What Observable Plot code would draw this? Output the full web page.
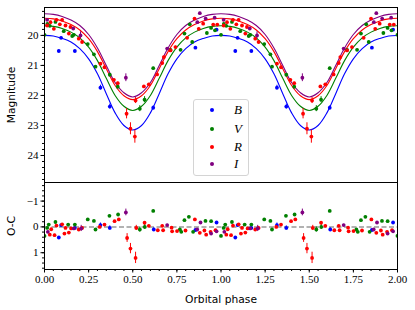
<!DOCTYPE html>
<html><head><meta charset="utf-8">
<script src="https://cdn.jsdelivr.net/npm/d3@7"></script>
<script src="https://cdn.jsdelivr.net/npm/@observablehq/plot@0.6"></script>
<style>
body{margin:0;background:#fff;}
#wrap{position:relative;width:415px;height:310px;overflow:hidden;}
#wrap svg{position:absolute;left:0;}
.legend{position:absolute;left:193px;top:99px;width:56px;height:77px;border:1px solid #d4d4d4;border-radius:3px;background:rgba(255,255,255,0.8);box-sizing:border-box;}
.legend .row{position:absolute;left:0;width:100%;height:16px;}
.legend .dot{position:absolute;left:16px;top:6px;width:4px;height:4px;border-radius:50%;}
.legend .lab{position:absolute;left:40px;top:0;font:italic 13px "Liberation Serif";line-height:16px;color:#000;}
</style></head>
<body>
<div id="wrap"></div>
<script>
// ---- data (one orbital cycle; the figure repeats it at phase + 1) ----
const bandNames = ["B", "V", "R", "I"];
const bandColors = ["#0000ff", "#008000", "#ff0000", "#800080"];

// model light curves
const modelPhase = [0,0.05,0.1,0.15,0.2,0.25,0.3,0.35,0.4,0.45,0.5,0.55,0.6,0.65,0.7,0.75,0.8,0.85,0.9,0.95,1.0];
const modelB = [20.00,20.02,20.10,20.22,20.44,20.78,21.28,21.94,22.58,23.00,23.15,23.00,22.58,21.94,21.28,20.78,20.44,20.22,20.10,20.02,20.00];
const modelV = [19.68,19.70,19.77,19.89,20.08,20.39,20.84,21.43,22.00,22.36,22.50,22.36,22.00,21.43,20.84,20.39,20.08,19.89,19.77,19.70,19.68];
const modelR = [19.43,19.45,19.52,19.64,19.82,20.11,20.54,21.11,21.67,22.01,22.14,22.01,21.67,21.11,20.54,20.11,19.82,19.64,19.52,19.45,19.43];
const modelI = [19.28,19.30,19.37,19.49,19.67,19.97,20.42,21.00,21.57,21.91,22.05,21.91,21.57,21.00,20.42,19.97,19.67,19.49,19.37,19.30,19.28];

// observed magnitudes [phase, mag, error]
const obsB = [[0.081,20.52],[0.094,20.08],[0.172,20.52],[0.317,21.74,0.08],[0.370,22.37,0.08],[0.616,22.41,0.06],[0.855,20.41],[0.975,19.81]];
const obsV = [[0.000,19.98],[0.016,19.62],[0.030,19.68],[0.062,19.55],[0.109,19.86],[0.157,20.02],[0.166,19.98],[0.245,20.29],[0.280,20.63],[0.289,21.04],[0.370,21.31],[0.415,21.71],[0.540,22.44,0.1],[0.567,22.14,0.1],[0.616,21.09],[0.714,20.48],[0.771,20.48],[0.793,19.94],[0.823,19.63],[0.837,20.22],[0.920,19.92],[0.944,19.75],[0.966,19.83]];
const obsR = [[0.015,19.67],[0.034,19.56],[0.053,19.78],[0.068,19.48],[0.087,19.63],[0.100,19.48],[0.119,19.67],[0.138,19.94],[0.147,19.72],[0.194,20.11],[0.213,20.22],[0.317,20.94],[0.340,21.06],[0.393,21.48],[0.415,21.59],[0.465,22.61,0.17],[0.487,23.11,0.2],[0.512,23.37,0.22],[0.516,22.17,0.1],[0.563,21.70],[0.591,21.63],[0.638,21.30],[0.667,20.92],[0.676,20.72],[0.714,20.50],[0.742,20.39],[0.808,20.08],[0.850,19.44],[0.874,19.78],[0.899,19.61],[0.956,19.64],[0.979,19.64]];
const obsI = [[0.015,19.48],[0.163,19.77],[0.204,20.00,0.12],[0.461,21.41,0.13],[0.695,20.44],[0.866,19.56],[0.880,19.26],[0.913,19.44],[0.964,19.41]];

// residuals O-C [phase, residual, error]
const resB = [[0.081,0.41],[0.094,-0.07],[0.172,0.04],[0.317,-0.07,0.08],[0.370,0.04,0.08],[0.619,0.10,0.06],[0.855,0.12],[0.975,-0.17]];
const resV = [[0.000,0.35],[0.015,0.04],[0.024,-0.09],[0.062,-0.19],[0.134,-0.09],[0.172,-0.09],[0.245,-0.29],[0.280,-0.23],[0.289,0.10],[0.368,-0.43],[0.417,-0.48],[0.540,0.10,0.1],[0.568,0.00,0.1],[0.616,-0.62],[0.767,0.10],[0.775,0.19],[0.793,-0.26],[0.818,-0.39],[0.842,0.19],[0.912,-0.23],[0.944,-0.22]];
const resR = [[0.030,0.30],[0.038,0.09],[0.057,0.32],[0.068,-0.05],[0.100,-0.10],[0.113,0.26],[0.119,0.04],[0.138,0.22],[0.151,0.06],[0.194,0.10],[0.213,0.04],[0.313,0.00],[0.340,-0.09],[0.397,-0.22],[0.421,-0.29],[0.468,0.43,0.17],[0.487,0.84,0.2],[0.516,1.20,0.22],[0.520,0.04,0.1],[0.567,-0.16],[0.591,-0.04],[0.642,0.13],[0.667,-0.04],[0.672,0.13],[0.720,0.03],[0.723,0.17],[0.751,0.16],[0.799,0.14],[0.852,-0.29],[0.880,0.23],[0.906,0.14],[0.916,0.30],[0.941,0.19],[0.969,0.13]];
const resI = [[0.019,0.19],[0.166,0.06],[0.208,0.06,0.12],[0.461,-0.56,0.13],[0.695,-0.07],[0.865,0.10],[0.884,-0.17],[0.944,0.26],[0.975,0.17]];

// ticks
const phaseTicks = [0,0.25,0.5,0.75,1,1.25,1.5,1.75,2];
const phaseMinor = d3.range(0, 2.0001, 0.05);
const magTicks = [20,21,22,23,24];
const magMinor = d3.range(19.2, 24.85, 0.2);
const ocTicks = [-1,0,1];
const ocMinor = d3.range(-1.6, 1.61, 0.2);

// ---- build tables ----
const models = [modelB, modelV, modelR, modelI];
const obsAll = [obsB, obsV, obsR, obsI];
const resAll = [resB, resV, resR, resI];
const cycles = [0, 1, 2];

function expand(list, band) {
  const out = [];
  for (const k of cycles) for (const [p, v, e] of list) {
    const ph = p + k;
    if (ph <= 2.0001) out.push({band, phase: ph, v, e: e ?? 0.03});
  }
  return out;
}
const modelRows = [];
models.forEach((m, bi) => {
  for (const k of [0, 1]) modelPhase.forEach((p, i) => {
    if (k === 1 && i === 0) return;
    modelRows.push({band: bandNames[bi], phase: p + k, v: m[i]});
  });
});
const obsRows = obsAll.flatMap((l, i) => expand(l, bandNames[i]));
const resRows = resAll.flatMap((l, i) => expand(l, bandNames[i]));

const colorScale = {domain: bandNames, range: bandColors};
const SERIF = "Liberation Serif";
const plotStyle = {fontFamily: SERIF, fontSize: "11px", color: "#000", background: "transparent", overflow: "visible"};
const W = 415;

const topChart = Plot.plot({
  width: W, height: 182,
  marginTop: 7, marginBottom: 0, marginLeft: 44, marginRight: 18,
  style: plotStyle,
  x: {domain: [0, 2], axis: null},
  y: {domain: [19.07, 24.9], reverse: true},
  color: colorScale,
  marks: [
    Plot.line(modelRows, {x: "phase", y: "v", z: "band", stroke: "band", strokeWidth: 1.1, curve: "catmull-rom", clip: true}),
    Plot.ruleX(obsRows, {x: "phase", y1: d => d.v - d.e, y2: d => d.v + d.e, stroke: "band", strokeWidth: 1, clip: true}),
    Plot.dot(obsRows, {x: "phase", y: "v", fill: "band", r: 1.9, clip: true}),
    Plot.axisY(magMinor, {tickSize: 2, text: null, label: null}),
    Plot.axisY(magTicks, {tickSize: 3.5, tickPadding: 2.5, tickFormat: d => String(d), fontFamily: SERIF, fontSize: 11, label: "Magnitude", labelAnchor: "center", labelArrow: "none", labelOffset: 37}),
    Plot.frame({stroke: "#000", strokeWidth: 1})
  ]
});

const bottomChart = Plot.plot({
  width: W, height: 128,
  marginTop: 0, marginBottom: 41, marginLeft: 44, marginRight: 18,
  style: plotStyle,
  x: {domain: [0, 2]},
  y: {domain: [-1.72, 1.65], reverse: true},
  color: colorScale,
  marks: [
    Plot.ruleY([0], {stroke: "#999", strokeWidth: 1.5, strokeDasharray: "5,2.5"}),
    Plot.ruleX(resRows, {x: "phase", y1: d => d.v - d.e, y2: d => d.v + d.e, stroke: "band", strokeWidth: 1, clip: true}),
    Plot.dot(resRows, {x: "phase", y: "v", fill: "band", r: 1.9, clip: true}),
    Plot.axisY(ocMinor, {tickSize: 2, text: null, label: null}),
    Plot.axisY(ocTicks, {tickSize: 3.5, tickPadding: 2.5, tickFormat: d => d3.format("")(d), fontFamily: SERIF, fontSize: 11, label: "O-C", labelAnchor: "center", labelArrow: "none", labelOffset: 37}),
    Plot.axisX(phaseMinor, {tickSize: 2, text: null, label: null}),
    Plot.axisX(phaseTicks, {tickSize: 3.5, tickPadding: 2, tickFormat: d3.format(".2f"), fontFamily: SERIF, fontSize: 11, label: "Orbital phase", labelAnchor: "center", labelArrow: "none", labelOffset: 33}),
    Plot.frame({stroke: "#000", strokeWidth: 1})
  ]
});

const wrap = document.getElementById("wrap");
topChart.style.top = "0px";
bottomChart.style.top = "182px";
wrap.appendChild(topChart);
wrap.appendChild(bottomChart);

for (const svg of [topChart, bottomChart]) {
  svg.querySelectorAll('[aria-label="y-axis label"], [aria-label="x-axis label"]').forEach(g => {
    g.setAttribute("font-family", "DejaVu Sans");
    g.setAttribute("font-size", "10.7px");
  });
}

// legend
const leg = document.createElement("div");
leg.className = "legend";
const rowTops = [2, 21, 39, 56];
bandNames.forEach((b, i) => {
  const row = document.createElement("div");
  row.className = "row";
  row.style.top = rowTops[i] + "px";
  const dot = document.createElement("span");
  dot.className = "dot";
  dot.style.background = bandColors[i];
  const lab = document.createElement("span");
  lab.className = "lab";
  lab.textContent = b;
  row.appendChild(dot); row.appendChild(lab);
  leg.appendChild(row);
});
wrap.appendChild(leg);
</script>
</body></html>
